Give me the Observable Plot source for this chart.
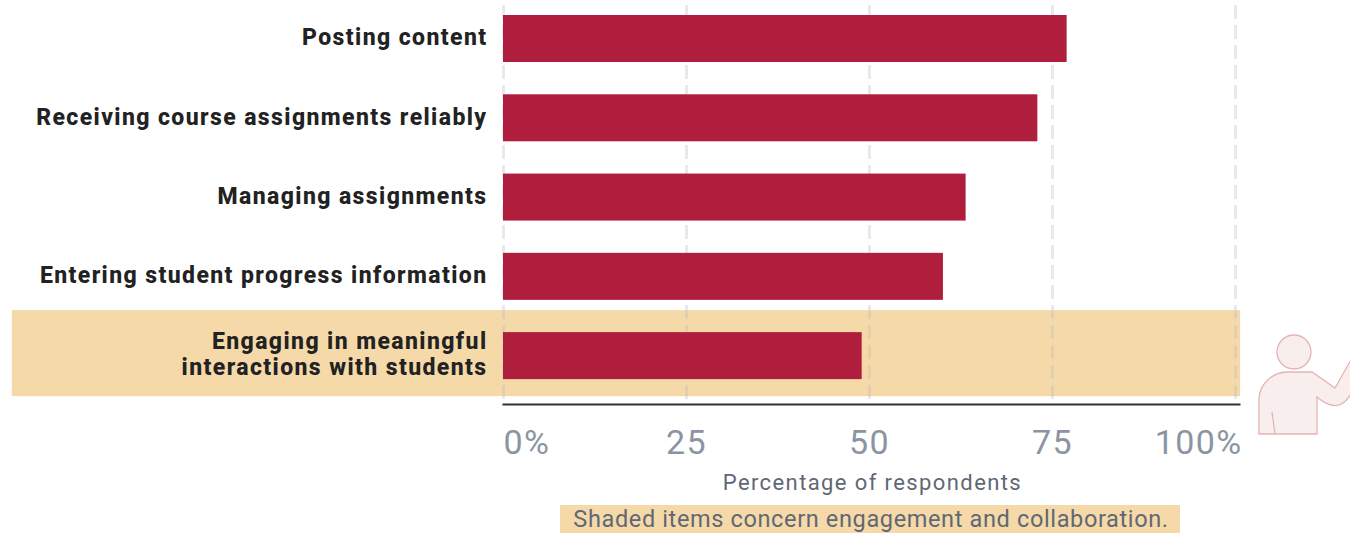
<!DOCTYPE html>
<html>
<head>
<meta charset="utf-8">
<script src="https://cdn.jsdelivr.net/npm/d3@7"></script>
<script src="https://cdn.jsdelivr.net/npm/@observablehq/plot@0.6"></script>
<style>
  html, body { margin: 0; padding: 0; background: #fff; overflow: hidden; }
  #chart svg { display: block; overflow: hidden; }
  #note {
    margin-left: 560px; width: 618px; height: 28px; padding-left: 2px;
    background: #f5d9a8; color: #5f6875; text-align: center; white-space: nowrap;
    font: 23.5px/28px Roboto, sans-serif; letter-spacing: .64px;
  }
</style>
</head>
<body>
<div id="chart"></div>
<div id="note">Shaded items concern engagement and collaboration.</div>
<script>
const tasks = [
  "Posting content",
  "Receiving course assignments reliably",
  "Managing assignments",
  "Entering student progress information",
  "Engaging in meaningful\ninteractions with students"
];
const percents = [77, 73, 63.2, 60.1, 49];
const shadedTasks = [tasks[4]];
const gridTicks = [0, 25, 50, 75, 100];
const rows = tasks.map((task, i) => ({task, percent: percents[i]}));

// Small presenter pictogram in the right margin
function presenter() {
  const g = d3.create("svg:g")
    .attr("fill", "#f8eeee").attr("stroke", "#e6b4b2").attr("stroke-width", 1.3);
  g.append("circle").attr("cx", 1294).attr("cy", 352).attr("r", 17);
  g.append("path").attr("d",
    "M1259 434 V398 C1260 384 1272 372 1288 372 H1312 L1335 388 L1352 358 V392 C1344 408 1332 410 1317 397 V434 Z");
  g.append("path").attr("fill", "none").attr("d", "M1272 412 L1275 434");
  return g.node();
}

const axisFont = {fontFamily: "Roboto, sans-serif"};
const tickStyle = {...axisFont, fontSize: 34, fill: "#8b94a3", tickSize: 0, label: null, dy: 10};

const plot = Plot.plot({
  width: 1350,
  height: 505,
  marginLeft: 503,
  marginRight: 111,
  marginTop: 5,
  marginBottom: 101,
  style: {background: "#fff", letterSpacing: "1.4px"},
  x: {domain: [0, 100], range: [503, 1235]},
  y: {domain: tasks, paddingInner: 0.407, paddingOuter: 0.22, align: 0.287, round: false},
  marks: [
    Plot.barX(shadedTasks, {
      y: d => d, x1: -67.1, x2: 100.7,
      insetTop: -22, insetBottom: -17, fill: "#f5d9a8"
    }),
    Plot.gridX(gridTicks, {
      stroke: "#b8bcc0", strokeOpacity: 0.32, strokeWidth: 3, strokeDasharray: "14 6"
    }),
    Plot.barX(rows, {y: "task", x: "percent", fill: "#b01e3e"}),
    Plot.frame({anchor: "bottom", stroke: "#333", strokeWidth: 2}),
    Plot.axisY({
      ...axisFont, tickSize: 0, tickPadding: 15, label: null, dy: -2, dx: -1,
      fontSize: 23, fontWeight: 800, fill: "#222", lineHeight: 1.13
    }),
    Plot.axisX({...tickStyle, ticks: [0], tickFormat: d => `${d}%`, textAnchor: "start", tickPadding: 15}),
    Plot.axisX({...tickStyle, ticks: [25, 50, 75], tickFormat: d => `${d}`, tickPadding: 15}),
    Plot.axisX({...tickStyle, ticks: [100], tickFormat: d => `${d}%`, textAnchor: "end", dx: 7, tickPadding: 15}),
    Plot.text(["Percentage of respondents"], {
      ...axisFont, frameAnchor: "bottom", x: () => 50.4, text: d => d,
      fontSize: 22, fill: "#5f6875", lineAnchor: "top", dy: 70
    }),
    presenter
  ]
});
document.getElementById("chart").append(plot);
</script>
</body>
</html>
